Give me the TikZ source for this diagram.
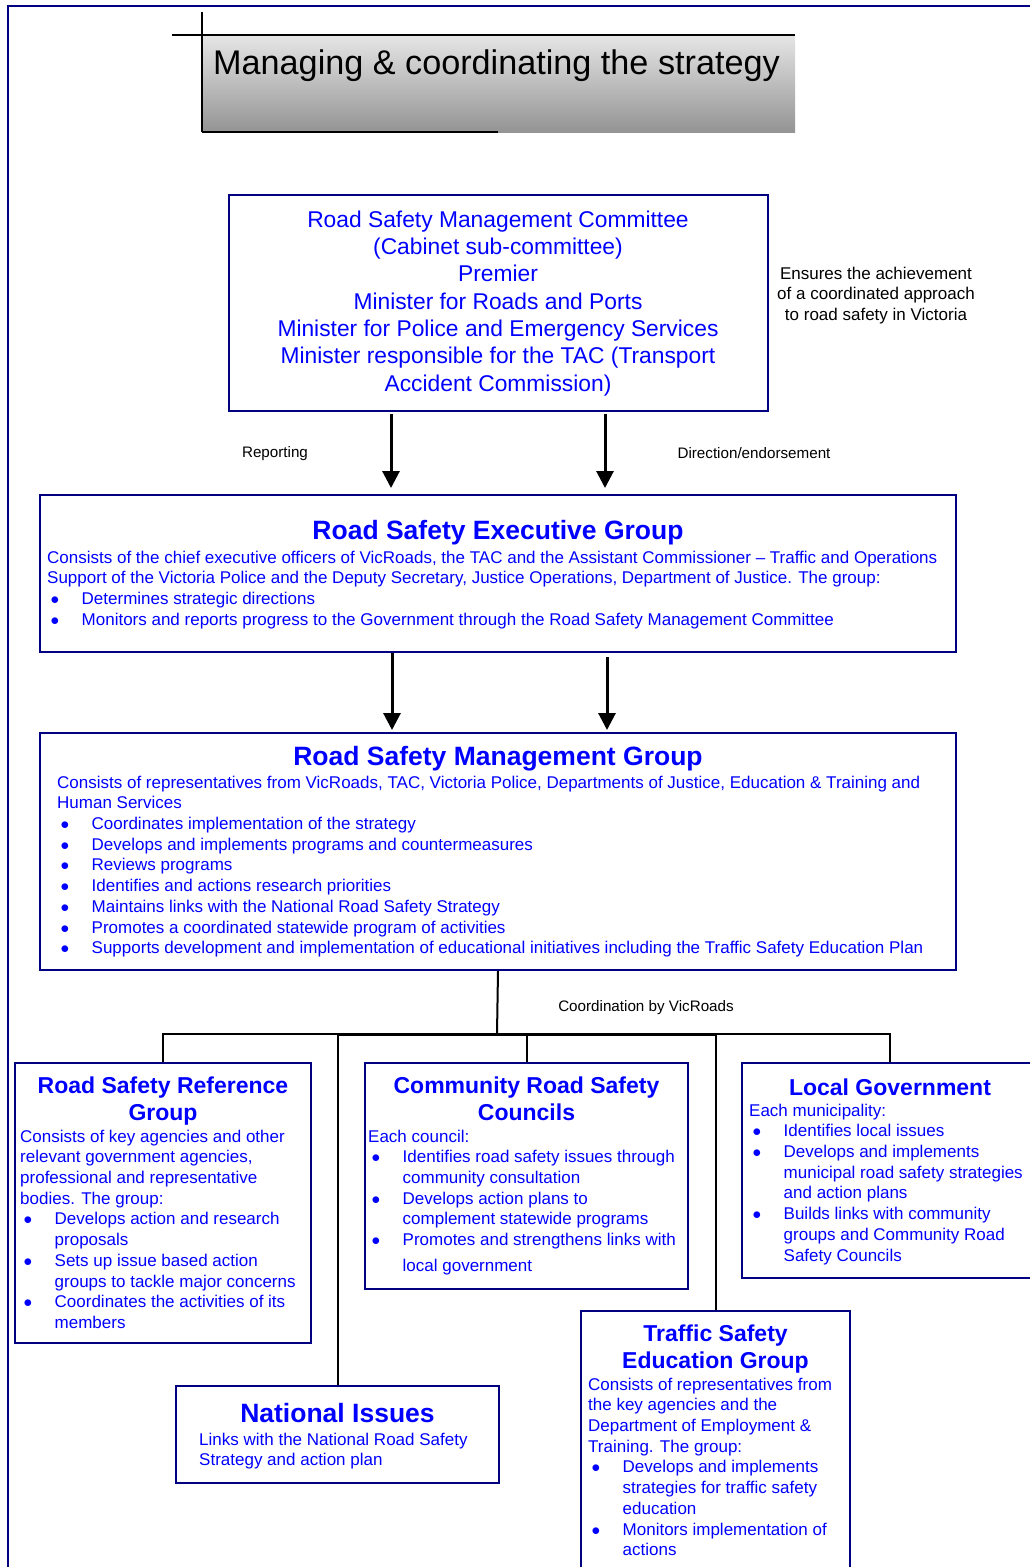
\documentclass[tikz,border=0pt]{standalone}
\usepackage{fontspec}
\setmainfont{Liberation Sans}
\usetikzlibrary{arrows.meta, positioning}
\definecolor{navy}{RGB}{0,0,128}
\definecolor{textblue}{RGB}{0,0,255}
\newcommand{\bitem}[1]{\hspace*{3.5pt}\makebox[31pt][l]{$\bullet$}#1}
\newcommand{\bcont}{\hspace*{34.5pt}}

\begin{document}
\begin{tikzpicture}[x=1pt, y=-1pt, every node/.style={inner sep=0pt},
    box/.style={rectangle, draw=navy, line width=2pt, anchor=north west},
    head/.style={text=textblue, font=\bfseries\fontsize{23}{27}\selectfont, align=center, anchor=north},
    body/.style={text=textblue, font=\fontsize{17}{20.7}\selectfont, align=left, anchor=north west},
    note/.style={font=\fontsize{15.2}{18}\selectfont},
    arr/.style={-{Triangle[length=17pt,width=17pt]}, line width=3pt},
    conn/.style={line width=2pt}]
    \useasboundingbox (0,0) rectangle (1029,1567);

    % frame and heading
    \draw[navy, line width=2pt] (1040,6) -- (8,6) -- (8,1580);
    \shade[top color=black!10, bottom color=black!42] (202,35) rectangle (795,132);
    \draw[line width=1.2pt] (172,35) -- (795,35);
    \draw[line width=1.2pt] (202,12) -- (202,132);
    \draw[line width=2pt] (202,132) -- (498,132);
    \node[anchor=west, font=\fontsize{34.2}{40}\selectfont] (title) at (213,66) {Managing \& coordinating the strategy};

    % boxes
    \node[box, minimum width=539pt, minimum height=216pt] (rsmc) at (227.5,194) {};
    \node[box, minimum width=916pt, minimum height=157pt] (rseg) at (39,494) {};
    \node[box, minimum width=916pt, minimum height=237pt] (rsmg) at (39,732) {};
    \node[box, minimum width=296pt, minimum height=280pt] (rsrg) at (14,1062) {};
    \node[box, minimum width=323pt, minimum height=226pt] (crsc) at (364,1062) {};
    \node[box, minimum width=296pt, minimum height=215pt] (lg) at (741,1062) {};
    \node[box, minimum width=323pt, minimum height=97pt] (ni) at (175,1385) {};
    \node[box, minimum width=269pt, minimum height=300pt] (tseg) at (580,1310) {};

    % box texts
    \node[text=textblue, font=\fontsize{22.8}{27.3}\selectfont, align=center, below=16.6pt of rsmc.north] (rsmc-t)
        {Road Safety Management Committee\\(Cabinet sub-committee)\\Premier\\Minister for Roads and Ports\\Minister for Police and Emergency Services\\Minister responsible for the TAC (Transport\\Accident Commission)};

    \node[head, font=\bfseries\fontsize{26.5}{30}\selectfont, below=26.2pt of rseg.north] (rseg-t) {Road Safety Executive Group};
    \node[body, below right=56.6pt and 8pt of rseg.north west] (rseg-b)
        {Consists of the chief executive officers of VicRoads, the TAC and the Assistant Commissioner -- Traffic and Operations\\
         Support of the Victoria Police and the Deputy Secretary, Justice Operations, Department of Justice. The group:\\
         \bitem{Determines strategic directions}\\
         \bitem{Monitors and reports progress to the Government through the Road Safety Management Committee}};

    \node[head, font=\bfseries\fontsize{26.5}{30}\selectfont, below=14.2pt of rsmg.north] (rsmg-t) {Road Safety Management Group};
    \node[body, below right=43.6pt and 18pt of rsmg.north west] (rsmg-b)
        {Consists of representatives from VicRoads, TAC, Victoria Police, Departments of Justice, Education \& Training and\\
         Human Services\\
         \bitem{Coordinates implementation of the strategy}\\
         \bitem{Develops and implements programs and countermeasures}\\
         \bitem{Reviews programs}\\
         \bitem{Identifies and actions research priorities}\\
         \bitem{Maintains links with the National Road Safety Strategy}\\
         \bitem{Promotes a coordinated statewide program of activities}\\
         \bitem{Supports development and implementation of educational initiatives including the Traffic Safety Education Plan}};

    \node[head, below=14.5pt of rsrg.north] (rsrg-t) {Road Safety Reference\\Group};
    \node[body, below right=67.6pt and 6pt of rsrg.north west] (rsrg-b)
        {Consists of key agencies and other\\relevant government agencies,\\professional and representative\\bodies. The group:\\
         \bitem{Develops action and research}\\\bcont proposals\\
         \bitem{Sets up issue based action}\\\bcont groups to tackle major concerns\\
         \bitem{Coordinates the activities of its}\\\bcont members};

    \node[head, below=14.5pt of crsc.north] (crsc-t) {Community Road Safety\\Councils};
    \node[body, below right=67.6pt and 4pt of crsc.north west] (crsc-b)
        {Each council:\\
         \bitem{Identifies road safety issues through}\\\bcont community consultation\\
         \bitem{Develops action plans to}\\\bcont complement statewide programs\\
         \bitem{Promotes and strengthens links with}\\[5pt]\bcont local government};

    \node[head, below=16.5pt of lg.north] (lg-t) {Local Government};
    \node[body, below right=41.6pt and 8pt of lg.north west] (lg-b)
        {Each municipality:\\
         \bitem{Identifies local issues}\\
         \bitem{Develops and implements}\\\bcont municipal road safety strategies\\\bcont and action plans\\
         \bitem{Builds links with community}\\\bcont groups and Community Road\\\bcont Safety Councils};

    \node[head, font=\bfseries\fontsize{26.5}{30}\selectfont, below=18.2pt of ni.north] (ni-t) {National Issues};
    \node[body, below right=47.6pt and 24pt of ni.north west] (ni-b)
        {Links with the National Road Safety\\Strategy and action plan};

    \node[head, below=14.5pt of tseg.north] (tseg-t) {Traffic Safety\\Education Group};
    \node[body, below right=67.6pt and 8pt of tseg.north west] (tseg-b)
        {Consists of representatives from\\the key agencies and the\\Department of Employment \&\\Training. The group:\\
         \bitem{Develops and implements}\\\bcont strategies for traffic safety\\\bcont education\\
         \bitem{Monitors implementation of}\\\bcont actions};

    % side notes
    \node[font=\fontsize{17}{20.7}\selectfont, align=center, anchor=north] (ensures) at (876,266.6)
        {Ensures the achievement\\of a coordinated approach\\to road safety in Victoria};
    \node[note] (rep) at (275,454) {Reporting};
    \node[note] (dir) at (754,453) {Direction/endorsement};
    \node[note] (coord) at (646,1008) {Coordination by VicRoads};

    % arrows
    \draw[arr, shorten <=2pt, shorten >=6pt] ([xshift=-107pt]rsmc.south) -- ([xshift=-107pt]rseg.north);
    \draw[arr, shorten <=2pt, shorten >=6pt] ([xshift=107pt]rsmc.south) -- ([xshift=107pt]rseg.north);
    \draw[arr, shorten >=2pt] ([xshift=-106pt]rseg.south) -- ([xshift=-106pt]rsmg.north);
    \draw[arr, shorten <=4pt, shorten >=2pt] ([xshift=109pt]rseg.south) -- ([xshift=109pt]rsmg.north);

    % coordination tree
    \coordinate (bus) at (497,1034);
    \draw[conn] (rsmg.south) -- (bus);
    \draw[conn] (rsrg.north) |- (bus) -| (lg.north);
    \draw[conn] (crsc.north) -- (crsc.north |- bus);
    \draw[conn] (ni.north) -- (ni.north |- bus);
    \draw[conn] (tseg.north) -- (tseg.north |- bus);
    \draw[conn, line width=3pt] (ni.north |- bus) -- (tseg.north |- bus);
\end{tikzpicture}
\end{document}
